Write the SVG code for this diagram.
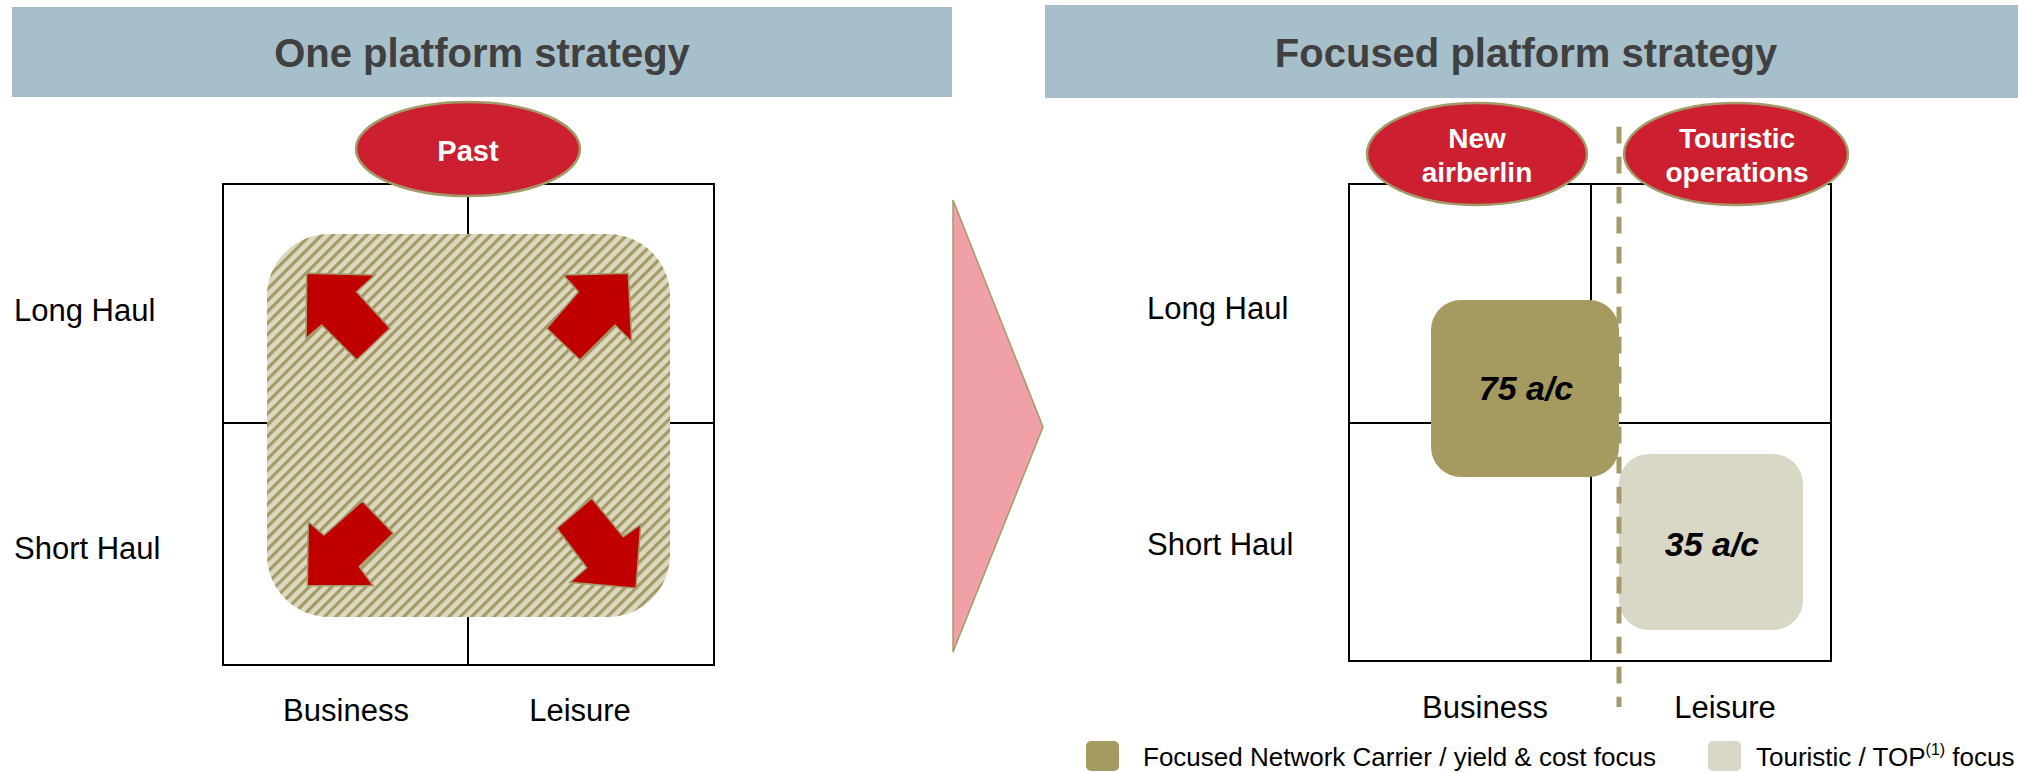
<svg xmlns="http://www.w3.org/2000/svg" width="2018" height="773" viewBox="0 0 2018 773">
<defs>
<pattern id="hatch" width="8" height="8" patternUnits="userSpaceOnUse" patternTransform="rotate(45)">
<rect x="0" y="0" width="8" height="8" fill="#dcd8c1"/>
<rect x="0" y="0" width="3.2" height="8" fill="#a39b65"/>
</pattern>
<style>
.hdr{fill:#a7bfca}
.title{font-family:"Liberation Sans",Arial,sans-serif;font-weight:bold;font-size:40px;fill:#404040;text-anchor:middle}
.grid{fill:none;stroke:#000;stroke-width:2}
.oval{fill:#cc1f2f;stroke:#a39a6a;stroke-width:2.5}
.ovt{font-family:"Liberation Sans",Arial,sans-serif;font-weight:bold;font-size:28px;fill:#fff;text-anchor:middle}
.lbl{font-family:"Liberation Sans",Arial,sans-serif;font-size:31px;fill:#000}
.mid{text-anchor:middle}
.arr{fill:#c00000;stroke:#a39a6a;stroke-width:1.5;stroke-linejoin:miter}
.ac{font-family:"Liberation Sans",Arial,sans-serif;font-weight:bold;font-style:italic;font-size:34px;fill:#000;text-anchor:middle}
.leg{font-family:"Liberation Sans",Arial,sans-serif;font-size:26px;fill:#000}
</style>
</defs>
<rect width="2018" height="773" fill="#fff"/>

<g id="header-left">
<rect class="hdr" x="12" y="7" width="940" height="90"/>
<text class="title" x="482" y="67">One platform strategy</text>
</g>
<g id="header-right">
<rect class="hdr" x="1045" y="5" width="973" height="93"/>
<text class="title" x="1526" y="67">Focused platform strategy</text>
</g>

<g id="left-matrix">
<rect class="grid" x="223" y="184" width="491" height="481"/>
<line class="grid" x1="468" y1="184" x2="468" y2="665"/>
<line class="grid" x1="223" y1="423" x2="714" y2="423"/>
</g>
<g id="left-area">
<rect x="267" y="234" width="403" height="383" rx="62" ry="62" fill="url(#hatch)"/>
</g>
<g id="left-arrows">
<polygon class="arr" points="306.7,273.3 375,275 356.7,291.7 390,328.3 356.7,360 321.7,325 306,338.3"/>
<polygon class="arr" points="563.3,275 628.3,273.3 631.7,341.7 615,325 580,360 546.7,328.3 578.3,291.7"/>
<polygon class="arr" points="308.3,521.7 324,535 362.3,501 393.3,533.3 359.3,566.7 373.3,585.7 307.3,585.7"/>
<polygon class="arr" points="591.7,498.3 623.3,536.7 640.7,524.3 636,588.3 570,582.3 586.7,567.7 556.7,528.3"/>
</g>
<g id="past">
<ellipse class="oval" cx="468" cy="149" rx="112" ry="47"/>
<text class="ovt" x="468" y="161" style="font-size:29px">Past</text>
</g>
<g id="left-labels">
<text class="lbl" x="14" y="321">Long Haul</text>
<text class="lbl" x="14" y="559">Short Haul</text>
<text class="lbl mid" x="346" y="721">Business</text>
<text class="lbl mid" x="580" y="721">Leisure</text>
</g>

<g id="transition-arrow">
<polygon points="953,200 1043,427 953,652" fill="#f0a1a7" stroke="#a39a6a" stroke-width="1.5"/>
</g>

<g id="right-matrix">
<rect class="grid" x="1349" y="184" width="482" height="477"/>
<line class="grid" x1="1591" y1="184" x2="1591" y2="661"/>
<line class="grid" x1="1349" y1="423" x2="1831" y2="423"/>
</g>
<g id="box-75">
<rect x="1431" y="300" width="188" height="177" rx="30" ry="30" fill="#a59a5f"/>
<text class="ac" x="1526" y="400">75 a/c</text>
</g>
<g id="box-35">
<rect x="1619" y="454" width="184" height="176" rx="30" ry="30" fill="#d9d7c5"/>
<text class="ac" x="1712" y="556">35 a/c</text>
</g>
<g id="connectors">
<line x1="1619" y1="126.7" x2="1619" y2="707" stroke="#a39b6a" stroke-width="5" stroke-dasharray="16.7 13.3"/>
</g>
<g id="new-airberlin">
<ellipse class="oval" cx="1477" cy="154" rx="110" ry="51"/>
<text class="ovt" x="1477" y="148">New</text>
<text class="ovt" x="1477" y="182">airberlin</text>
</g>
<g id="touristic-operations">
<ellipse class="oval" cx="1736" cy="154" rx="112" ry="51"/>
<text class="ovt" x="1737" y="148">Touristic</text>
<text class="ovt" x="1737" y="182">operations</text>
</g>
<g id="right-labels">
<text class="lbl" x="1147" y="319">Long Haul</text>
<text class="lbl" x="1147" y="555">Short Haul</text>
<text class="lbl mid" x="1485" y="718">Business</text>
<text class="lbl mid" x="1725" y="718">Leisure</text>
</g>
<g id="legend">
<rect x="1086" y="741" width="33" height="30" rx="5" fill="#a59a5f"/>
<text class="leg" x="1143" y="766">Focused Network Carrier / yield &amp; cost focus</text>
<rect x="1708" y="741" width="33" height="30" rx="5" fill="#d9d7c5"/>
<text class="leg" x="1756" y="766">Touristic / TOP<tspan font-size="16" dy="-11">(1)</tspan><tspan dy="11"> focus</tspan></text>
</g>
</svg>
